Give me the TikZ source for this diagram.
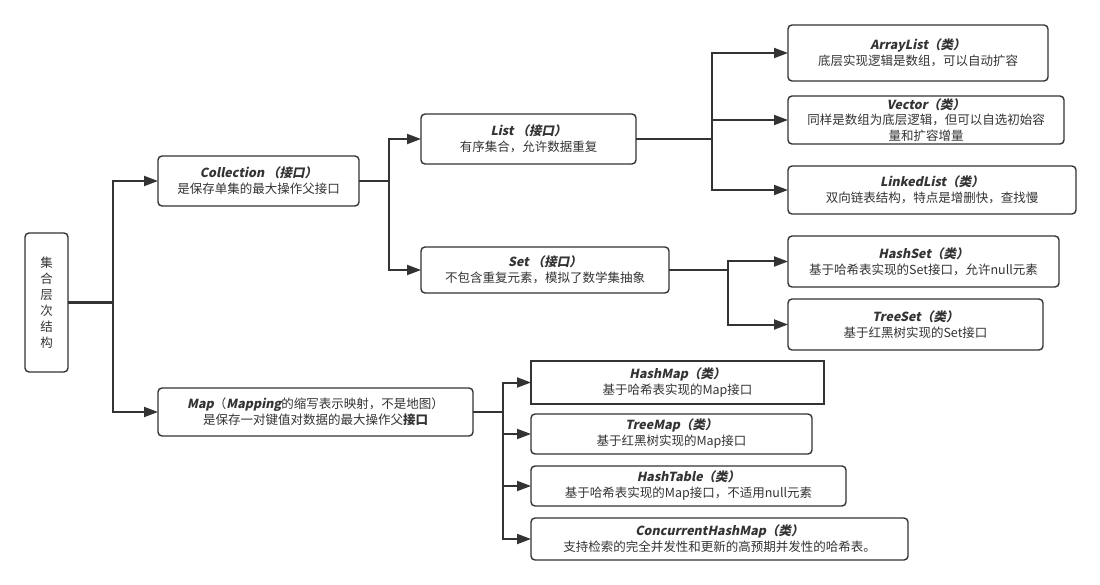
\documentclass[tikz,border=0pt]{standalone}
\usepackage{fontspec}
\setmainfont{Noto Sans CJK SC}[ItalicFont={Noto Sans CJK SC}, ItalicFeatures={FakeSlant=0.2}, BoldFont={Noto Sans CJK SC/B}, BoldItalicFont={Noto Sans CJK SC/B}, BoldItalicFeatures={FakeSlant=0.2}]
\usetikzlibrary{arrows.meta}
\definecolor{ln}{HTML}{333333}
\definecolor{tx}{HTML}{333333}
\tikzset{
 box/.style={draw=ln, line width=1.4pt, rounded corners=4pt, anchor=north west, inner sep=0pt, outer sep=0pt, align=center, text=tx, font=\fontsize{12.5}{16}\selectfont},
 sqbox/.style={box, sharp corners},
 conn/.style={draw=ln, line width=2pt},
 arr/.style={conn, -{Triangle[length=14pt,width=10pt]}},
}
\newcommand\ttl[1]{{\bfseries\itshape #1}}
\begin{document}
\begin{tikzpicture}[x=1pt,y=-1pt]
\useasboundingbox (0,0) rectangle (1100,585);
% nodes
\node[box, minimum width=43pt, minimum height=139pt] (root) at (25,233) {集\\合\\层\\次\\结\\构};
\node[box, minimum width=201pt, minimum height=50pt] (coll) at (158,156) {\ttl{Collection （接口）}\\是保存单集的最大操作父接口};
\node[box, minimum width=315pt, minimum height=48pt] (map) at (158,388) {\ttl{Map}（\ttl{Mapping}的缩写表示映射，不是地图）\\是保存一对键值对数据的最大操作父{\bfseries 接口}};
\node[box, minimum width=215pt, minimum height=50pt] (list) at (421,114) {\ttl{List （接口）}\\有序集合，允许数据重复};
\node[box, minimum width=248pt, minimum height=46pt] (set) at (421,247) {\ttl{Set （接口）}\\不包含重复元素，模拟了数学集抽象};
\node[box, minimum width=260pt, minimum height=56pt] (al) at (788,25) {\ttl{ArrayList（类）}\\底层实现逻辑是数组，可以自动扩容};
\node[box, minimum width=276pt, minimum height=48pt, font=\fontsize{12.5}{15.5}\selectfont] (vec) at (788,96) {\ttl{Vector（类）}\\同样是数组为底层逻辑，但可以自选初始容\\量和扩容增量};
\node[box, minimum width=288pt, minimum height=48pt] (ll) at (788,166) {\ttl{LinkedList（类）}\\双向链表结构，特点是增删快，查找慢};
\node[box, minimum width=271pt, minimum height=51pt] (hs) at (788,236) {\ttl{HashSet（类）}\\基于哈希表实现的Set接口，允许null元素};
\node[box, minimum width=255pt, minimum height=51pt] (ts) at (788,299) {\ttl{TreeSet（类）}\\基于红黑树实现的Set接口};
\node[sqbox, minimum width=293pt, minimum height=43pt] (hm) at (531,361) {\ttl{HashMap（类）}\\基于哈希表实现的Map接口};
\node[box, minimum width=281pt, minimum height=40pt] (tm) at (531,414) {\ttl{TreeMap（类）}\\基于红黑树实现的Map接口};
\node[box, minimum width=315pt, minimum height=40pt] (ht) at (531,466) {\ttl{HashTable（类）}\\基于哈希表实现的Map接口，不适用null元素};
\node[box, minimum width=377pt, minimum height=42pt] (chm) at (531,518) {\ttl{ConcurrentHashMap（类）}\\支持检索的完全并发性和更新的高预期并发性的哈希表。};
% junctions
\coordinate (j0) at (113,302.5);
\coordinate (j1) at (389,181);
\coordinate (j2) at (712,139);
\coordinate (j3) at (728,270);
\coordinate (j4) at (503,412);
% connectors
\draw[conn] (root.east) -- (j0);
\draw[arr] (j0) |- (coll.west);
\draw[arr] (j0) |- (map.west);
\draw[conn] (coll.east) -- (j1);
\draw[arr] (j1) |- (list.west);
\draw[arr] (j1) |- (set.west);
\draw[conn] (list.east) -- (j2);
\draw[arr] (j2) |- (al.west);
\draw[arr] (j2) |- (vec.west);
\draw[arr] (j2) |- (ll.west);
\draw[conn] (set.east) -- (j3);
\draw[arr] (j3) |- (hs.west);
\draw[arr] (j3) |- (ts.west);
\draw[conn] (map.east) -- (j4);
\draw[arr] (j4) |- (hm.west);
\draw[arr] (j4) |- (tm.west);
\draw[arr] (j4) |- (ht.west);
\draw[arr] (j4) |- (chm.west);
\end{tikzpicture}
\end{document}
